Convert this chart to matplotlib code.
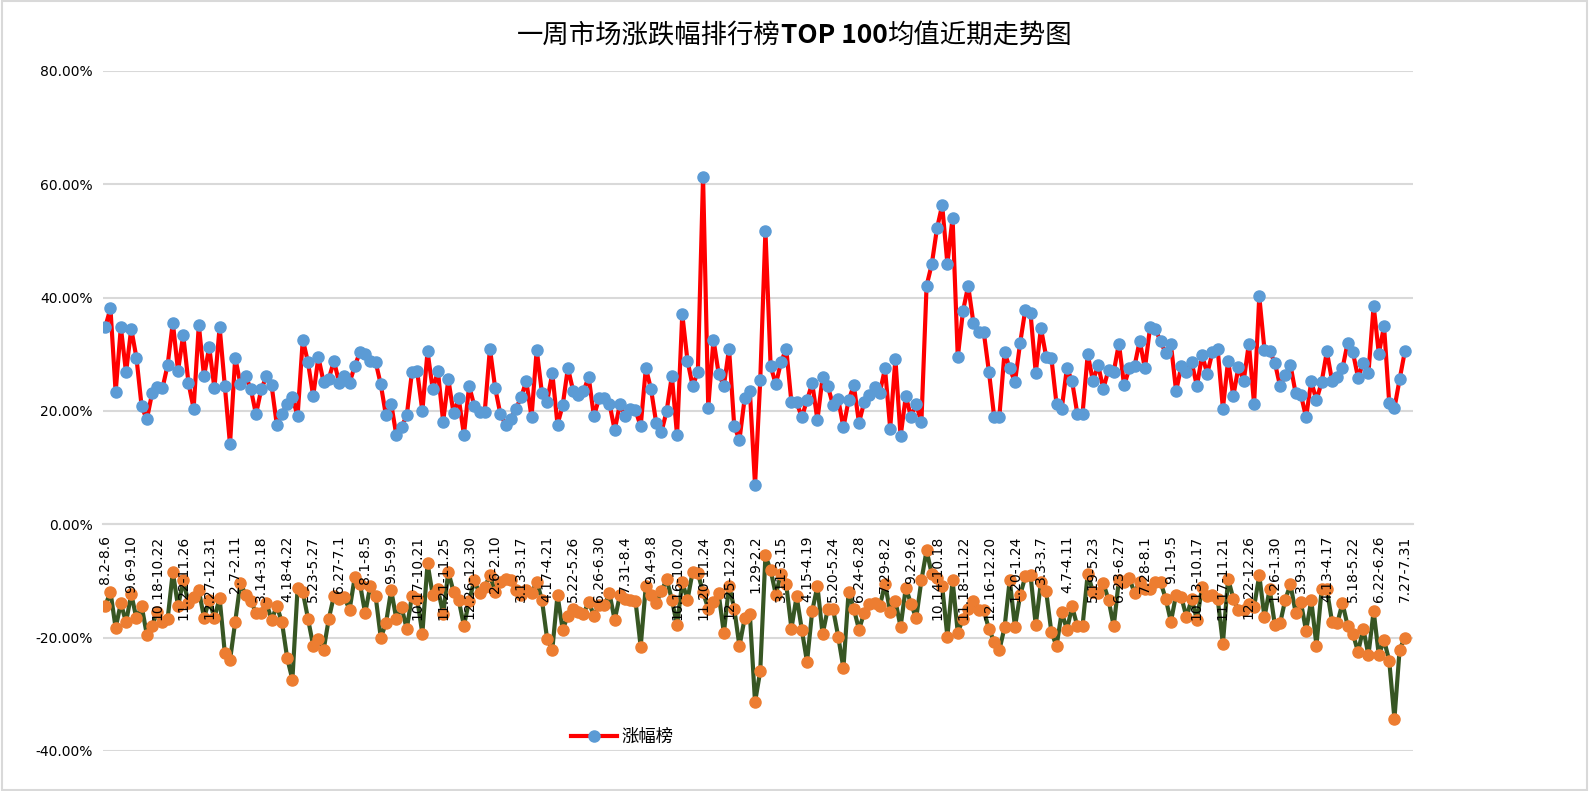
import matplotlib
matplotlib.use('Agg')
import matplotlib.pyplot as plt
from matplotlib.patches import Rectangle
import numpy as np

plt.rcParams['font.family'] = ['DejaVu Sans', 'Noto Sans CJK SC']

# weekly labels, one every 5 weeks
week_labels = ['8.2-8.6', '9.6-9.10', '10.18-10.22', '11.22-11.26', '12.27-12.31',
               '2.7-2.11', '3.14-3.18', '4.18-4.22', '5.23-5.27', '6.27-7.1',
               '8.1-8.5', '9.5-9.9', '10.17-10.21', '11.21-11.25', '12.26-12.30',
               '2.6-2.10', '3.13-3.17', '4.17-4.21', '5.22-5.26', '6.26-6.30',
               '7.31-8.4', '9.4-9.8', '10.16-10.20', '11.20-11.24', '12.25-12.29',
               '1.29-2.2', '3.11-3.15', '4.15-4.19', '5.20-5.24', '6.24-6.28',
               '7.29-8.2', '9.2-9.6', '10.14-10.18', '11.18-11.22', '12.16-12.20',
               '1.20-1.24', '3.3-3.7', '4.7-4.11', '5.19-5.23', '6.23-6.27',
               '7.28-8.1', '9.1-9.5', '10.13-10.17', '11.17-11.21', '12.22-12.26',
               '1.26-1.30', '3.9-3.13', '4.13-4.17', '5.18-5.22', '6.22-6.26',
               '7.27-7.31']

# 涨幅榜 top 100 average (%)
gain = [34.8, 38.1, 23.3, 34.8, 26.8, 34.5, 29.4, 20.8, 18.5, 23.1,
        24.2, 24.0, 28.1, 35.6, 27.1, 33.4, 25.0, 20.4, 35.2, 26.1,
        31.3, 24.0, 34.8, 24.4, 14.1, 29.4, 24.8, 26.1, 23.9, 19.4,
        23.8, 26.1, 24.5, 17.6, 19.4, 21.3, 22.4, 19.1, 32.6, 28.6,
        22.6, 29.5, 25.1, 25.7, 28.8, 25.0, 26.1, 25.0, 27.9, 30.4,
        30.0, 28.8, 28.7, 24.7, 19.2, 21.3, 15.7, 17.2, 19.2, 26.8,
        27.0, 20.0, 30.5, 23.8, 27.0, 18.1, 25.6, 19.6, 22.2, 15.8,
        24.4, 20.9, 19.8, 19.8, 31.0, 24.1, 19.5, 17.6, 18.6, 20.4,
        22.4, 25.3, 18.9, 30.8, 23.2, 21.6, 26.7, 17.6, 21.0, 27.6,
        23.6, 22.8, 23.5, 26.0, 19.1, 22.2, 22.2, 21.3, 16.6, 21.2,
        19.1, 20.4, 20.1, 17.3, 27.6, 23.8, 17.8, 16.3, 20.0, 26.2,
        15.7, 37.1, 28.9, 24.4, 26.9, 61.3, 20.6, 32.6, 26.6, 24.4,
        31.0, 17.3, 14.9, 22.2, 23.6, 6.9, 25.4, 51.8, 27.9, 24.7,
        28.6, 31.0, 21.5, 21.5, 18.9, 21.9, 24.9, 18.4, 26.0, 24.4,
        21.0, 22.1, 17.1, 21.9, 24.5, 17.9, 21.6, 22.8, 24.2, 23.2,
        27.5, 16.9, 29.2, 15.5, 22.6, 19.0, 21.2, 18.0, 42.1, 45.9,
        52.2, 56.3, 46.0, 54.1, 29.5, 37.6, 42.1, 35.6, 33.9, 33.9,
        26.9, 19.0, 19.0, 30.4, 27.5, 25.1, 32.0, 37.9, 37.2, 26.7,
        34.6, 29.6, 29.4, 21.2, 20.4, 27.6, 25.2, 19.5, 19.5, 30.0,
        25.3, 28.1, 23.9, 27.3, 26.9, 31.9, 24.5, 27.5, 27.9, 32.4,
        27.5, 34.8, 34.5, 32.3, 30.2, 31.8, 23.5, 27.9, 26.9, 28.6,
        24.4, 29.8, 26.6, 30.4, 30.9, 20.4, 28.9, 22.6, 27.8, 25.3,
        31.9, 21.2, 40.2, 30.8, 30.6, 28.5, 24.4, 26.3, 28.1, 23.1,
        22.9, 18.9, 25.2, 21.9, 25.1, 30.5, 25.3, 26.0, 27.5, 32.0,
        30.4, 25.9, 28.5, 26.7, 38.6, 30.1, 35.0, 21.4, 20.5, 25.6, 30.5]

# 跌幅榜 top 100 average (%)
loss = [-14.4, -11.9, -18.3, -13.9, -17.3, -12.3, -16.6, -14.4, -19.5, -17.9,
        -15.5, -17.3, -16.7, -8.4, -14.5, -9.9, -13.8, -12.8, -11.6, -16.5,
        -13.4, -16.5, -13.0, -22.7, -24.0, -17.2, -10.4, -12.4, -13.5, -15.6,
        -15.6, -13.8, -16.9, -14.4, -17.3, -23.6, -27.4, -11.3, -11.9, -16.7,
        -21.4, -20.3, -22.2, -16.7, -12.6, -13.2, -12.9, -15.1, -9.3, -10.5,
        -15.7, -10.8, -12.6, -20.0, -17.5, -11.6, -16.7, -14.6, -18.5, -12.6,
        -13.1, -19.3, -6.9, -12.5, -11.4, -15.8, -8.4, -11.9, -13.4, -17.9,
        -13.5, -9.9, -12.2, -11.1, -9.0, -11.9, -10.2, -9.7, -9.9, -11.6,
        -12.5, -11.6, -12.2, -10.1, -13.3, -20.2, -22.1, -12.5, -18.6, -16.1,
        -14.9, -15.5, -15.8, -13.7, -16.1, -14.3, -14.3, -12.2, -16.9, -12.5,
        -13.1, -13.4, -13.5, -21.6, -10.8, -12.5, -13.9, -11.8, -9.7, -13.3,
        -17.8, -10.2, -13.3, -8.4, -8.6, -12.0, -14.9, -13.7, -12.2, -19.2,
        -10.8, -14.9, -21.5, -16.6, -15.8, -31.4, -25.9, -5.5, -8.1, -12.4,
        -8.7, -10.6, -18.4, -12.7, -18.6, -24.3, -15.3, -10.9, -19.4, -14.9,
        -14.9, -19.8, -25.4, -11.9, -14.9, -18.6, -15.6, -14.1, -13.9, -14.5,
        -10.5, -15.4, -13.5, -18.1, -11.2, -14.0, -16.6, -9.9, -4.6, -8.8,
        -9.5, -10.9, -19.8, -9.9, -19.1, -16.7, -14.9, -13.5, -15.2, -15.2,
        -18.5, -20.7, -22.2, -18.2, -9.8, -18.1, -12.5, -9.2, -9.0, -17.8,
        -10.2, -11.8, -19.0, -21.5, -15.5, -18.6, -14.5, -18.0, -18.0, -8.7,
        -11.9, -12.1, -10.4, -13.3, -18.0, -9.8, -10.2, -9.5, -12.1, -10.2,
        -11.4, -11.5, -10.2, -10.2, -13.1, -17.2, -12.4, -12.8, -16.4, -13.1,
        -16.9, -11.1, -12.7, -12.4, -13.1, -21.1, -9.6, -13.1, -15.2, -15.2,
        -14.0, -14.6, -9.0, -16.4, -11.4, -17.8, -17.5, -13.3, -10.6, -15.6,
        -13.7, -18.8, -13.4, -21.4, -11.5, -11.5, -17.2, -17.5, -13.9, -17.9,
        -19.3, -22.5, -18.4, -23.1, -15.3, -23.1, -20.4, -24.1, -34.3, -22.1, -20.0]

label_step = 5
x = np.arange(len(gain))

fig = plt.figure(figsize=(15.89, 7.91), dpi=100)
fig.patches.append(Rectangle((0.001, 0.001), 0.998, 0.998, transform=fig.transFigure,
                             fill=False, edgecolor='#D9D9D9', lw=1.5))
ax = fig.add_axes([0.0646, 0.0506, 0.8244, 0.8597])

# axis at 0 first: moving the spine resets the ticks
for s in ['top', 'right', 'left']:
    ax.spines[s].set_visible(False)
ax.spines['bottom'].set_position(('data', 0))
ax.spines['bottom'].set_color('#D9D9D9')
ax.spines['bottom'].set_linewidth(1.5)
ax.set_axisbelow(False)

for v in range(-40, 81, 20):
    ax.axhline(v, color='#D9D9D9', lw=1.5, zorder=0.5)

ax.plot(x, gain, color='#FF0000', lw=3, marker='o', ms=8,
        mfc='#5B9BD5', mec='#5B9BD5', label='涨幅榜', zorder=2)
ax.plot(x, loss, color='#375623', lw=3, marker='o', ms=8,
        mfc='#ED7D31', mec='#ED7D31', zorder=2)

ax.set_xlim(-0.5, len(gain) + 0.5)
ax.set_ylim(-40, 80)
ax.set_yticks(range(-40, 81, 20))
ax.set_yticklabels([f'{v:.2f}%' for v in range(-40, 81, 20)], fontsize=10)
ax.set_xticks(x[::label_step])
ax.set_xticklabels(week_labels, rotation=90, fontsize=10)
ax.tick_params(axis='both', length=0)
ax.tick_params(axis='x', pad=8)
ax.tick_params(axis='y', pad=7)

ax.legend(loc='center', bbox_to_anchor=(0.397, 0.021), frameon=False,
          prop={'family': ['Noto Sans CJK SC'], 'size': 12.5},
          handlelength=2.6, handletextpad=0.3)

# title, with "TOP 100" in bold, centred as a whole
renderer = fig.canvas.get_renderer()
pieces = [('一周市场涨跌幅排行榜', 'normal'), ('TOP 100', 'bold'), ('均值近期走势图', 'normal')]
texts = [fig.text(0, 0.9456, s, fontsize=19, fontweight=w, va='baseline',
                  family=['Noto Sans CJK SC', 'DejaVu Sans']) for s, w in pieces]
widths = [t.get_window_extent(renderer).width for t in texts]
x0 = (fig.bbox.width - sum(widths)) / 2
for t, w in zip(texts, widths):
    t.set_x(x0 / fig.bbox.width)
    x0 += w

fig.savefig('out.png', dpi=100)
